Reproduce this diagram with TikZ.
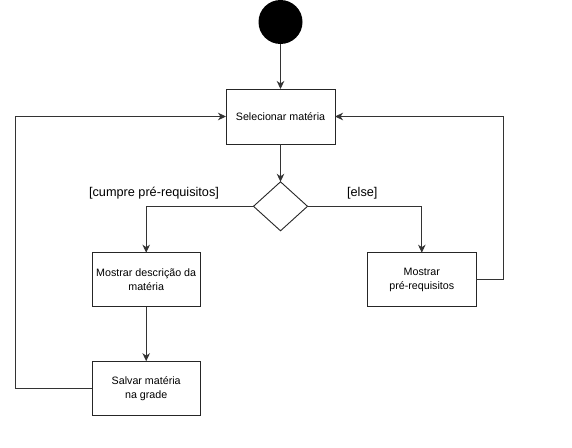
\documentclass[tikz,border=0pt]{standalone}
\usepackage{fontspec}
\setmainfont{Liberation Sans}
\usetikzlibrary{shapes.geometric,arrows.meta}
\begin{document}
\begin{tikzpicture}[x=1pt,y=-1pt,
  line width=0.9pt,
  every node/.style={inner sep=0pt,outer sep=0pt},
  actbox/.style={draw=black!85,rectangle,minimum width=108.5pt,minimum height=54pt,
    align=center,font=\fontsize{10.7}{14}\selectfont},
  guard/.style={font=\fontsize{12.7}{15}\selectfont},
  flow/.style={draw=black!80,-{Stealth[length=8pt,width=7.5pt,inset=2.5pt]}}]
\useasboundingbox[fill=white] (0,0) rectangle (572,447);

% start node and activities
\node[circle,fill=black,minimum size=44pt] (start) at (280.5,22) {};
\node[actbox,minimum width=109pt,minimum height=55pt] (sel) at (280.5,116.5) {Selecionar matéria};
\node[diamond,draw=black!85,minimum width=54pt,minimum height=49pt,aspect=1.1] (dec) at (280.5,206.3) {};
\node[actbox] (desc) at (146.2,279.7) {Mostrar descrição da\\matéria};
\node[actbox] (pre) at (421.8,279.7) {Mostrar\\pré-requisitos};
\node[actbox] (save) at (146.2,388.2) {Salvar matéria\\na grade};

% guard labels
\node[guard] (gyes) at (154,193.3) {[cumpre pré-requisitos]};
\node[guard] (gno) at (362.3,193.3) {[else]};

% loop-back corners
\coordinate (lft) at (15.3,116.5);
\coordinate (rgt) at (503.3,116.5);

% flows
\draw[flow] (start) -- (sel);
\draw[flow] (sel) -- (dec);
\draw[flow] (dec.west) -| (desc.north);
\draw[flow] (dec.east) -| (pre.north);
\draw[flow] (desc) -- (save);
\draw[flow] (save.west) -| (lft) -- (sel.west);
\draw[flow] (pre.east) -| (rgt) -- (sel.east);
\end{tikzpicture}
\end{document}
